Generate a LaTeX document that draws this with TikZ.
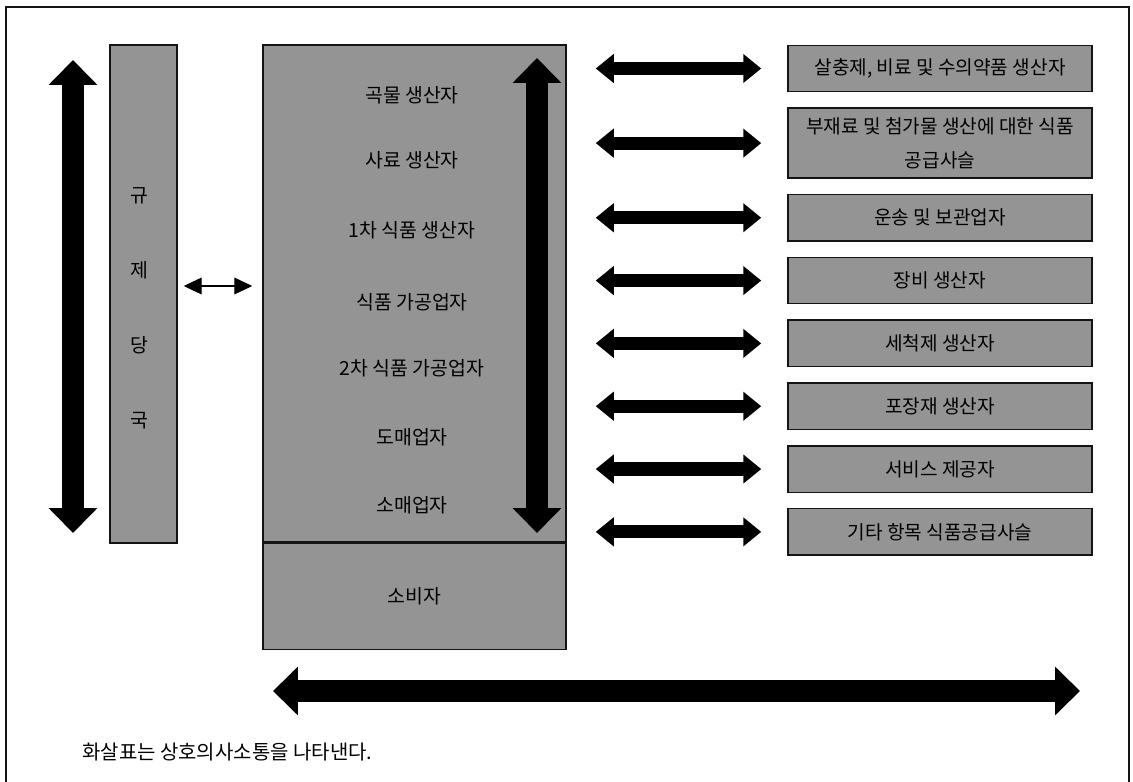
\documentclass[tikz,border=0pt]{standalone}
\usepackage{fontspec}
\newfontfamily\krfont{Noto Sans CJK KR}
\usepackage{tikz}
\usetikzlibrary{arrows.meta, positioning}
\definecolor{boxgray}{RGB}{148, 148, 148}
\definecolor{inkline}{RGB}{20, 20, 20}

\begin{document}
\begin{tikzpicture}[
    x=0.025cm, y=-0.025cm,
    panel/.style={rectangle, draw=inkline, fill=boxgray, line width=1pt, inner sep=0pt},
    supplier/.style={rectangle, draw=inkline, fill=boxgray, line width=1pt, minimum width=7.6cm, minimum height=1.16cm, align=center, inner sep=1pt, font=\krfont\fontsize{13.6}{16}\selectfont},
    stage/.style={inner sep=0pt, font=\krfont\fontsize{13.8}{16}\selectfont},
    bigarrow/.style={{Triangle[length=0.62cm, width=1.175cm]}-{Triangle[length=0.62cm, width=1.175cm]}, line width=0.57cm, color=black},
    linkarrow/.style={{Triangle[length=0.45cm, width=0.7cm]}-{Triangle[length=0.45cm, width=0.7cm]}, line width=0.33cm, color=black, shorten <=0.725cm, shorten >=0.65cm},
    thinarrow/.style={{Triangle[length=0.45cm, width=0.42cm]}-{Triangle[length=0.45cm, width=0.42cm]}, line width=0.8pt, color=black, shorten <=0.15cm, shorten >=0.25cm}
]
    \useasboundingbox (0,0) rectangle (1133,782);
    % Frame
    \draw[line width=1pt, inkline] (6,782) -- (6,7) -- (1129,7) -- (1129,782);

    % Regulator column
    \node[panel, minimum width=1.675cm, minimum height=12.45cm] (reg) at (143.5,294) {};
    \node[stage, align=center, font=\krfont\fontsize{13.8}{53.3}\selectfont] (regtxt) at (139,308) {규\\제\\당\\국};

    % Supply chain column
    \node[panel, minimum width=7.575cm, minimum height=12.425cm] (main) at (414.5,293.5) {};
    \node[panel, minimum width=7.575cm, minimum height=2.65cm, below=0pt of main] (cons) {};
    \node[stage] (grain) at (412,95) {곡물 생산자};
    \node[stage] (feed) at (412,160) {사료 생산자};
    \node[stage] (prim) at (412,230) {1차 식품 생산자};
    \node[stage] (proc) at (412,302) {식품 가공업자};
    \node[stage] (sec) at (412,368) {2차 식품 가공업자};
    \node[stage] (whole) at (412,437) {도매업자};
    \node[stage] (retail) at (412,505) {소매업자};
    \node[stage] (consumer) at (cons) {소비자};

    % Suppliers
    \node[supplier] (r1) at (940,68.5) {살충제, 비료 및 수의약품 생산자};
    \node[supplier, below=0.375cm of r1, minimum height=1.75cm, font=\krfont\fontsize{13.6}{24.5}\selectfont] (r2) {부재료 및 첨가물 생산에 대한 식품\\공급사슬};
    \node[supplier, below=0.375cm of r2] (r3) {운송 및 보관업자};
    \node[supplier, below=0.375cm of r3] (r4) {장비 생산자};
    \node[supplier, below=0.375cm of r4] (r5) {세척제 생산자};
    \node[supplier, below=0.375cm of r5] (r6) {포장재 생산자};
    \node[supplier, below=0.375cm of r6] (r7) {서비스 제공자};
    \node[supplier, below=0.375cm of r7] (r8) {기타 항목 식품공급사슬};

    % Arrow ends
    \coordinate (lt) at (73,60);
    \coordinate (lb) at (73,533);
    \coordinate (mt) at (537,58);
    \coordinate (mb) at (537,533);
    \coordinate (bl) at (273,691);
    \coordinate (br) at (1080,691);
    \coordinate (sa) at (183,286);

    % Relationships
    \draw[bigarrow] (lt) -- (lb);
    \draw[bigarrow, line width=0.55cm] (mt) -- (mb);
    \draw[bigarrow] (bl) -- (br);
    \draw[thinarrow] (reg.east |- sa) -- (main.west |- sa);
    \draw[linkarrow] (main.east |- r1) -- (r1.west);
    \draw[linkarrow] (main.east |- r2) -- (r2.west);
    \draw[linkarrow] (main.east |- r3) -- (r3.west);
    \draw[linkarrow] (main.east |- r4) -- (r4.west);
    \draw[linkarrow] (main.east |- r5) -- (r5.west);
    \draw[linkarrow] (main.east |- r6) -- (r6.west);
    \draw[linkarrow] (main.east |- r7) -- (r7.west);
    \draw[linkarrow] (main.east |- r8) -- (r8.west);

    % Note
    \node[anchor=west, inner sep=0pt, font=\krfont\fontsize{14.2}{17}\selectfont] (note) at (82,752) {화살표는 상호의사소통을 나타낸다.};
\end{tikzpicture}
\end{document}
